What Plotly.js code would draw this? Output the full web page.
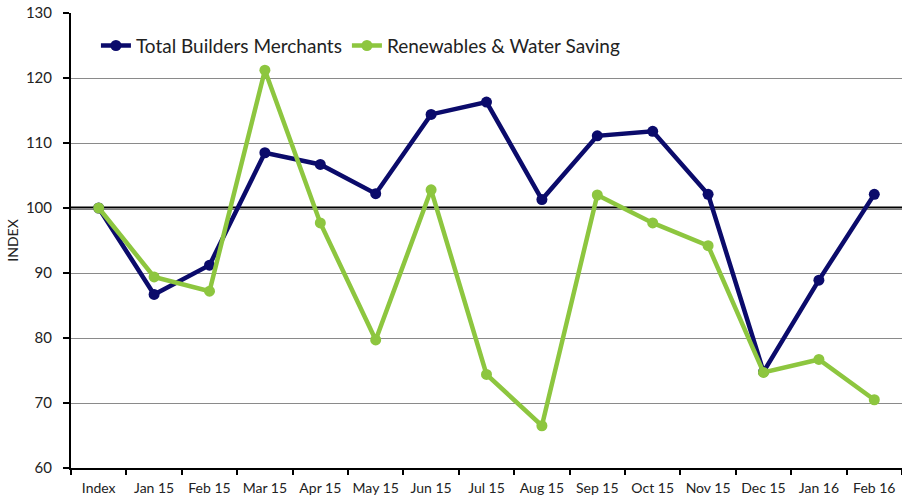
<!DOCTYPE html>
<html>
<head>
<meta charset="utf-8">
<script src="https://cdn.plot.ly/plotly-3.0.1.min.js"></script>
<style>html,body{margin:0;padding:0;background:#fff;}#chart{width:902px;height:500px;}</style>
</head>
<body>
<div id="chart"></div>
<script>
var categories = ["Index","Jan 15","Feb 15","Mar 15","Apr 15","May 15","Jun 15","Jul 15","Aug 15","Sep 15","Oct 15","Nov 15","Dec 15","Jan 16","Feb 16"];
var totalBuilders = [100, 86.7, 91.2, 108.5, 106.7, 102.2, 114.4, 116.3, 101.3, 111.1, 111.8, 102.1, 74.8, 88.9, 102.1];
var renewables = [100, 89.4, 87.2, 121.2, 97.7, 79.7, 102.8, 74.4, 66.5, 102.0, 97.7, 94.2, 74.7, 76.7, 70.5];
var yTicks = [60,70,80,90,100,110,120,130];

var font = "Lato, 'Open Sans', sans-serif";
var traces = [
  {x: categories, y: totalBuilders, name: "Total Builders Merchants", type: "scatter", mode: "lines+markers",
   line: {color: "#0b0b6b", width: 4.5}, marker: {color: "#0b0b6b", size: 11}},
  {x: categories, y: renewables, name: "Renewables & Water Saving", type: "scatter", mode: "lines+markers",
   line: {color: "#8dc63f", width: 4.5}, marker: {color: "#8dc63f", size: 11}}
];
var layout = {
  width: 902, height: 500,
  margin: {l: 71, r: 0, t: 13, b: 32},
  paper_bgcolor: "#fff", plot_bgcolor: "#fff",
  font: {family: font, size: 13, color: "#222"},
  showlegend: true,
  legend: {orientation: "h", x: 0.03, y: 0.97, xanchor: "left", yanchor: "top",
           font: {size: 19, color: "#222"}, bgcolor: "rgba(0,0,0,0)", itemwidth: 30, tracegroupgap: 0},
  xaxis: {type: "category", range: [-0.5, 14.5], showgrid: false, showline: true, linecolor: "#000", linewidth: 2,
          ticks: "outside", tickson: "boundaries", ticklen: 5, tickcolor: "#000", tickwidth: 2,
          tickangle: 0, automargin: false, ticklabelstandoff: 6,
          tickfont: {size: 14, color: "#222"}, zeroline: false, fixedrange: true},
  yaxis: {range: [60, 130], tickvals: yTicks, showgrid: true, gridcolor: "#8a8a8a", gridwidth: 1,
          showline: true, linecolor: "#000", linewidth: 2, ticks: "outside", ticklen: 6, tickcolor: "#000", tickwidth: 2,
          ticklabelstandoff: 8, automargin: false,
          tickfont: {size: 15, color: "#222"}, zeroline: false,
          title: {text: "INDEX", font: {size: 14, color: "#222"}, standoff: 4}},
  shapes: [{type: "line", xref: "paper", x0: 0, x1: 1, yref: "y", y0: 100, y1: 100, line: {color: "#000", width: 3}, layer: "below"}]
};
Plotly.newPlot("chart", traces, layout, {displayModeBar: false, staticPlot: true});
</script>
</body>
</html>
